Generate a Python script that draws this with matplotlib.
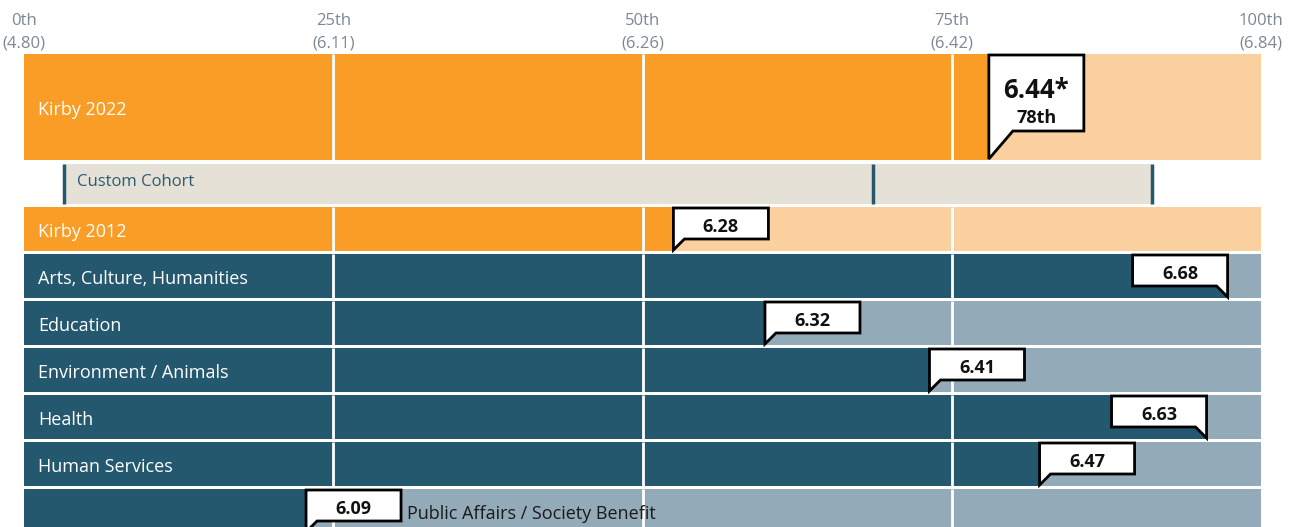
import matplotlib.pyplot as plt
from matplotlib.patches import Polygon

plt.rcParams['font.family'] = ['Open Sans', 'DejaVu Sans']

# data
quartile_pct = [0, 25, 50, 75, 100]
quartile_score = ["4.80", "6.11", "6.26", "6.42", "6.84"]
quartile_name = ["0th", "25th", "50th", "75th", "100th"]

bar_labels = ["Kirby 2022", "Kirby 2012", "Arts, Culture, Humanities", "Education",
              "Environment / Animals", "Health", "Human Services",
              "Public Affairs / Society Benefit"]
bar_pct = [78, 52.5, 97.3, 59.9, 73.2, 95.6, 82.1, 22.8]
bar_score = ["6.44*", "6.28", "6.68", "6.32", "6.41", "6.63", "6.47", "6.09"]
bar_group = ["self", "self", "sector", "sector", "sector", "sector", "sector", "sector"]

cohort_label = "Custom Cohort"
cohort_low, cohort_mid, cohort_high = 3.2, 68.6, 91.2

# layout (y in pixels from top)
row_top = [54, 207, 254, 301, 348, 395, 442, 489]
row_h = [106, 44, 44, 44, 44, 44, 44, 44]
cohort_top, cohort_h = 164, 40

dark = {"self": "#f99d26", "sector": "#24586f"}
light = {"self": "#fad09f", "sector": "#93aab8"}
beige = "#e5e1d6"
tick_col = "#7d8893"

W, H = 1294, 527
x0px, x1px = 24, 1261
ppp = (x1px - x0px) / 100.0  # pixels per percentile
dy = 3  # text baseline nudge

fig = plt.figure(figsize=(W / 100, H / 100), dpi=100)
ax = fig.add_axes([0, 0, 1, 1])
ax.set_xlim(-x0px / ppp, 100 + (W - x1px) / ppp)
ax.set_ylim(H, 0)
ax.axis('off')

# quartile headers
for p, nm, sc in zip(quartile_pct, quartile_name, quartile_score):
    ax.text(p, 18 + dy, nm, ha='center', va='center', fontsize=12, color=tick_col)
    ax.text(p, 40 + dy, "(" + sc + ")", ha='center', va='center', fontsize=12, color=tick_col)

# cohort row
ax.barh(cohort_top + cohort_h / 2, cohort_high - cohort_low, left=cohort_low,
        height=cohort_h, color=beige, zorder=1)
ax.vlines([cohort_low, cohort_mid, cohort_high], cohort_top, cohort_top + cohort_h,
          color="#24586f", lw=2.5, zorder=2)
ax.text(cohort_low + 13 / ppp, cohort_top + 15 + dy, cohort_label, ha='left', va='center',
        fontsize=12, color="#2a5b72")


def callout(ax, pct, top, bottom, tip, tail_w, right):
    bw = 95 / ppp
    tw = tail_w / ppp
    if right:
        xa, xb = pct - bw, pct
        pts = [(xa, top), (xb, top), (xb, tip), (xb - tw, bottom), (xa, bottom)]
    else:
        xa, xb = pct, pct + bw
        pts = [(xa, top), (xb, top), (xb, bottom), (xa + tw, bottom), (xa, tip)]
    ax.add_patch(Polygon(pts, closed=True, facecolor='white', edgecolor='black',
                         lw=2, joinstyle='miter', zorder=3))
    return (xa + xb) / 2


for i, (lab, p, sc, g) in enumerate(zip(bar_labels, bar_pct, bar_score, bar_group)):
    top, h = row_top[i], row_h[i]
    yc = top + h / 2
    ax.barh(yc, p, left=0, height=h, color=dark[g], zorder=1)
    ax.barh(yc, 100 - p, left=p, height=h, color=light[g], zorder=1)
    ax.vlines([25, 50, 75], top, top + h, color='white', lw=2, zorder=2)
    right = p > 90
    if i == 0:
        xc = callout(ax, p, top + 1, top + 77, top + 105, 24, right)
        ax.text(xc, top + 33 + dy, sc, ha='center', va='center', fontsize=18.5,
                fontweight='bold', color='#111111', zorder=4)
        ax.text(xc, top + 61 + dy, "%dth" % round(p), ha='center', va='center',
                fontsize=13, fontweight='bold', color='#111111', zorder=4)
    else:
        xc = callout(ax, p, top + 1, top + 32, top + h - 1, 11, right)
        ax.text(xc, top + 17 + dy, sc, ha='center', va='center', fontsize=13,
                fontweight='bold', color='#111111', zorder=4)
    if p < 30:
        ax.text(p + 101 / ppp, yc + dy, lab, ha='left', va='center', fontsize=13,
                color='#1a1a1a', zorder=4)
    else:
        ax.text(14 / ppp, yc + dy, lab, ha='left', va='center', fontsize=13,
                color='white', zorder=4)

fig.savefig("out.png", dpi=100)
